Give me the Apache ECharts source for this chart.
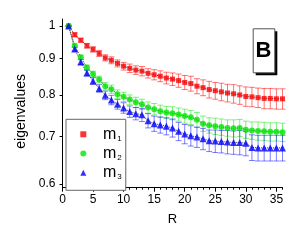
<!DOCTYPE html>
<html>
<head>
<meta charset="utf-8">
<script src="https://cdn.jsdelivr.net/npm/echarts@6/dist/echarts.min.js"></script>
<style>
html,body{margin:0;padding:0;background:#fff;}
#c{width:300px;height:245px;}
</style>
</head>
<body>
<div id="c"></div>
<script>
const R = [1,2,3,4,5,6,7,8,9,10,11,12,13,14,15,16,17,18,19,20,21,22,23,24,25,26,27,28,29,30,31,32,33,34,35,36];
const m1 = [1.000,0.972,0.955,0.938,0.927,0.915,0.902,0.895,0.886,0.878,0.872,0.867,0.864,0.858,0.854,0.850,0.845,0.842,0.838,0.833,0.830,0.823,0.819,0.814,0.811,0.808,0.805,0.803,0.800,0.796,0.795,0.793,0.791,0.791,0.790,0.790];
const m2 = [1.000,0.938,0.904,0.874,0.856,0.841,0.823,0.815,0.802,0.795,0.788,0.781,0.776,0.768,0.764,0.759,0.756,0.754,0.751,0.747,0.744,0.738,0.729,0.725,0.723,0.721,0.719,0.718,0.719,0.715,0.713,0.712,0.711,0.710,0.710,0.709];
const m3 = [1.000,0.928,0.890,0.859,0.837,0.817,0.799,0.787,0.776,0.767,0.758,0.753,0.750,0.736,0.729,0.726,0.723,0.719,0.711,0.705,0.701,0.698,0.694,0.690,0.689,0.688,0.687,0.686,0.686,0.684,0.675,0.674,0.674,0.674,0.674,0.674];
const e1 = [0.000,0.006,0.006,0.007,0.008,0.009,0.009,0.010,0.010,0.011,0.012,0.012,0.013,0.013,0.014,0.015,0.016,0.017,0.018,0.019,0.020,0.020,0.021,0.022,0.022,0.023,0.023,0.024,0.024,0.025,0.025,0.025,0.026,0.026,0.026,0.026];
const e2 = [0.000,0.005,0.006,0.007,0.008,0.009,0.010,0.011,0.011,0.012,0.012,0.013,0.013,0.014,0.014,0.015,0.015,0.016,0.016,0.017,0.017,0.018,0.018,0.018,0.019,0.019,0.019,0.020,0.020,0.020,0.020,0.021,0.021,0.021,0.021,0.021];
const e3 = [0.000,0.006,0.007,0.008,0.009,0.010,0.011,0.012,0.012,0.013,0.014,0.015,0.016,0.017,0.018,0.019,0.020,0.021,0.021,0.022,0.023,0.023,0.024,0.024,0.025,0.025,0.026,0.026,0.027,0.027,0.028,0.028,0.028,0.028,0.028,0.028];
const yTicks = [0.6,0.7,0.8,0.9,1];
const xTicks = [0,5,10,15,20,25,30,35];
const names = ['m1','m2','m3'];
const colors = ['#ff0000','#00e600','#0000ff'];
const barColors = ['rgba(255,0,0,0.55)','rgba(0,230,0,0.5)','rgba(0,0,255,0.5)'];
const symbols = ['rect','circle','triangle'];
const symbolSizes = [5,6,7];

const L = v => Math.log10(v);
const vals = [m1,m2,m3];
const errs = [e1,e2,e3];
const FF = 'Liberation Sans, Arial, sans-serif';

const chart = echarts.init(document.getElementById('c'), null, {renderer:'canvas'});
const series = [];
vals.forEach((arr, i) => {
  series.push({
    type:'custom', name: names[i]+'_err', silent:true, z:1,
    xAxisIndex:0, yAxisIndex:0,
    data: R.map((r,k)=>[r, L(arr[k]-errs[i][k]), L(arr[k]+errs[i][k])]),
    encode:{x:0, y:[1,2]},
    renderItem:(params, api) => {
      const x = api.value(0);
      const lo = api.coord([x, api.value(1)]);
      const hi = api.coord([x, api.value(2)]);
      const hw = 3;
      const st = {stroke: barColors[i], lineWidth:1};
      return {type:'group', children:[
        {type:'line', shape:{x1:lo[0],y1:lo[1],x2:hi[0],y2:hi[1]}, style:st},
        {type:'line', shape:{x1:lo[0]-hw,y1:lo[1],x2:lo[0]+hw,y2:lo[1]}, style:st},
        {type:'line', shape:{x1:hi[0]-hw,y1:hi[1],x2:hi[0]+hw,y2:hi[1]}, style:st}
      ]};
    }
  });
});
vals.forEach((arr, i) => {
  series.push({
    type:'line', name: names[i]+'_fit', silent:true, z:2,
    xAxisIndex:0, yAxisIndex:0,
    data: R.map((r,k)=>[r, L(arr[k])]),
    symbol:'none',
    lineStyle:{type:'dotted', color:'#333', width:1}
  });
});
vals.forEach((arr, i) => {
  series.push({
    type:'scatter', name: names[i], z:3,
    xAxisIndex:0, yAxisIndex:0,
    data: R.map((r,k)=>[r, L(arr[k])]),
    symbol: symbols[i], symbolSize: symbolSizes[i],
    itemStyle:{color: colors[i]}
  });
});

const option = {
  animation:false,
  textStyle:{fontFamily:FF},
  grid:{left:62.5, right:17.5, top:19, bottom:57.3, containLabel:false},
  xAxis:[{
    type:'value', min:0, max:36, interval:1, position:'bottom',
    axisLine:{show:true, onZero:false, lineStyle:{color:'#000', width:1}},
    axisTick:{show:true, length:2, lineStyle:{color:'#000'}},
    axisLabel:{show:false},
    splitLine:{show:false}
  },{
    type:'value', min:0, max:36, position:'bottom',
    name:'R', nameLocation:'middle', nameGap:25,
    nameTextStyle:{fontSize:13, color:'#000', fontFamily:FF},
    axisLine:{show:false, onZero:false},
    axisTick:{show:true, length:4, customValues:xTicks, lineStyle:{color:'#000'}},
    axisLabel:{show:true, customValues:xTicks, margin:6, fontSize:12, color:'#000', fontFamily:FF},
    splitLine:{show:false}
  }],
  yAxis:{
    type:'value', min:L(0.5925), max:L(1.0229),
    name:'eigenvalues', nameLocation:'middle', nameGap:31, nameRotate:90,
    nameTextStyle:{fontSize:14, color:'#000', padding:[0,16,0,0], fontFamily:FF},
    axisLine:{show:true, onZero:false, lineStyle:{color:'#000', width:1}},
    axisTick:{show:true, length:3, customValues:yTicks.map(L), lineStyle:{color:'#000'}},
    axisLabel:{show:true, customValues:yTicks.map(L), margin:7, fontSize:12, color:'#000',
      fontFamily:FF,
      formatter: v => String(Math.round(Math.pow(10, v)*10)/10)},
    splitLine:{show:false}
  },
  legend:{
    data:names, orient:'vertical', left:66, top:119.3,
    padding:[7,4,9.6,14.3], itemGap:3.2, itemWidth:6, itemHeight:6,
    borderColor:'#666', borderWidth:1, backgroundColor:'#fff',
    selectedMode:false,
    formatter: n => '{m|m}{s|' + n.slice(1) + '}',
    textStyle:{
      color:'#000', fontFamily:FF,
      rich:{
        m:{fontSize:16, lineHeight:14, color:'#000', padding:[0,0,0,11.7], fontFamily:FF},
        s:{fontSize:8, lineHeight:14, color:'#000', padding:[8,0,0,1], fontFamily:FF}
      }
    }
  },
  graphic:[
    {type:'rect', left:255.7, top:31.3, shape:{width:21.6, height:44}, style:{fill:'#000'}, silent:true},
    {type:'rect', left:252.7, top:28.3, shape:{width:21.6, height:44}, style:{fill:'#fff', stroke:'#555', lineWidth:1}, silent:true},
    {type:'text', x:263.5, y:50.5, style:{text:'B', fontSize:22, fontWeight:'bold', fill:'#000', align:'center', verticalAlign:'middle', fontFamily:FF}, silent:true}
  ],
  series: series
};
chart.setOption(option);
</script>
</body>
</html>
